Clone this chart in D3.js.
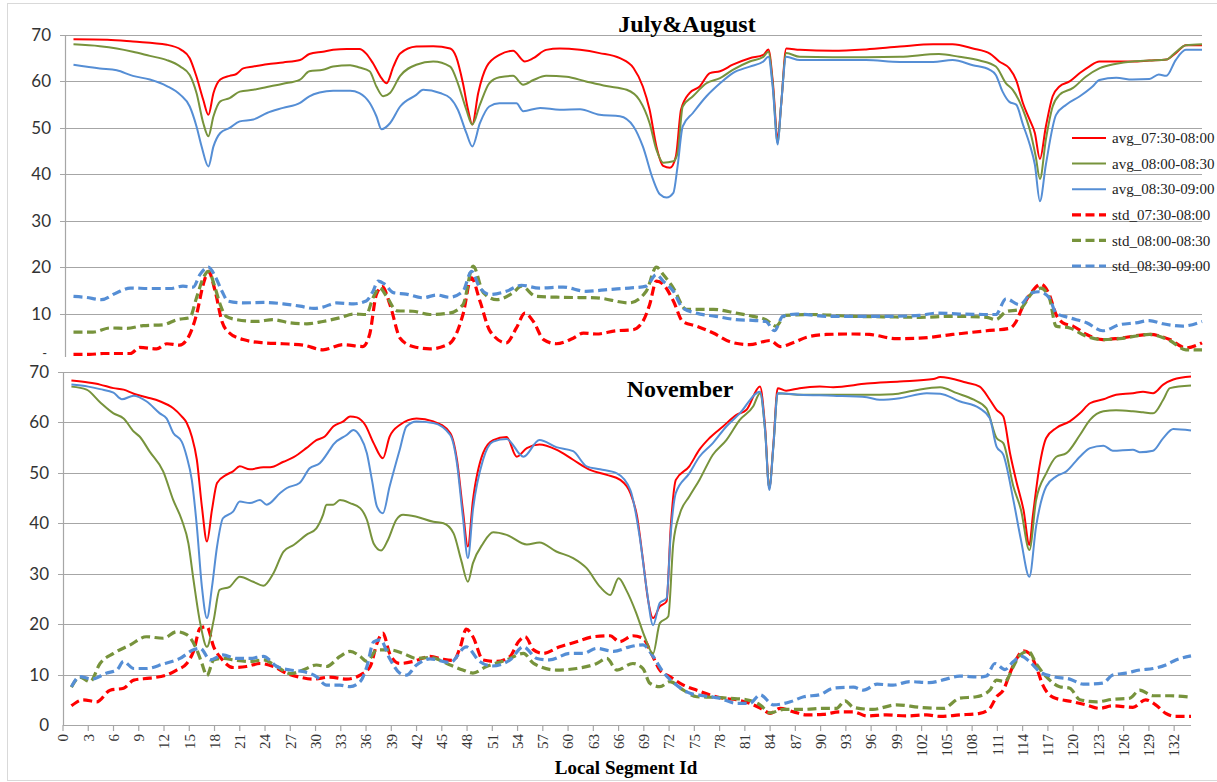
<!DOCTYPE html>
<html>
<head>
<meta charset="utf-8">
<script src="https://cdn.jsdelivr.net/npm/d3@7"></script>
<style>
  body { margin: 0; background: #fff; }
  .grid line { stroke: #a6a6a6; stroke-width: 1.2; }
  .ylab { font-family: Lato, "Open Sans", sans-serif; font-size: 17px; fill: #333; }
  .xlab { font-family: "Liberation Serif", "Times New Roman", serif; font-size: 15px; fill: #333; }
  .title { font-family: "Liberation Serif", "Times New Roman", serif; font-weight: bold; font-size: 24px; fill: #000; }
  .legend text { font-family: "Liberation Serif", "Times New Roman", serif; font-size: 15px; fill: #222; }
</style>
</head>
<body>
<div id="chart"></div>
<script>
// ---- data as [segment id, value] ----
const seriesNames = ["avg_07:30-08:00", "avg_08:00-08:30", "avg_08:30-09:00",
                     "std_07:30-08:00", "std_08:00-08:30", "std_08:30-09:00"];
const yTicks = [0, 10, 20, 30, 40, 50, 60, 70];
const xTicks = d3.range(0, 133, 3);

// July & August
const jaAvg0730 = [[1,69.1],[5,69],[8,68.6],[12,67.9],[13.7,66.8],[14.7,65],[15.5,61],[16.3,56],[16.9,52.8],[17.5,57.5],[18.3,60.4],[19.4,61.2],[20.2,61.6],[21,62.8],[22.2,63.2],[23.8,63.7],[25.7,64.1],[27.7,64.6],[28.8,65.9],[30.4,66.4],[31.6,66.8],[33.2,67],[34.7,67],[35.5,66],[36.3,63.9],[37.3,60.7],[37.9,59.6],[38.7,63.2],[39.5,66],[41.4,67.5],[43.4,67.6],[45.4,67.1],[46.1,65.3],[46.9,59.6],[47.5,53.9],[48,50.7],[48.7,57.5],[49.7,63.2],[51.2,65.7],[52.8,66.6],[54.2,64.3],[55.2,65],[56.7,66.8],[58.3,67.1],[60.7,66.8],[63,66.1],[65.4,65],[67,62.9],[68.1,58.9],[68.9,53.9],[69.7,46],[70.5,41.8],[71.3,41.4],[72,43.9],[72.6,53.9],[73.6,57.5],[74.8,58.9],[76,61.8],[77.2,62.2],[78.7,63.6],[80.7,65],[82.3,65.7],[82.9,66.9],[83.4,60.3],[84,47.8],[84.4,55],[85,67.1],[86.6,66.8],[90.5,66.6],[94.4,66.9],[98.4,67.5],[102.3,68],[104.6,68],[107,67.1],[109,66],[110.1,64.3],[111.3,62.8],[112.1,60.3],[112.9,55.3],[113.7,51.7],[114.3,48.9],[114.9,43.3],[115.6,50.3],[116.4,56.8],[117.2,58.9],[118.4,60],[119.6,61.8],[120.7,63.2],[121.9,64.3],[123.9,64.3],[125.8,64.3],[127.8,64.5],[129.8,64.7],[130.9,66.1],[132.1,67.8],[134,67.8]];
const jaAvg0800 = [[1,68],[4.1,67.6],[6.1,67.1],[8,66.4],[10,65.5],[12,64.6],[13.6,63.2],[14.7,61.4],[15.5,57.5],[16.3,51],[16.9,48.2],[17.5,52.5],[18.3,55.7],[19.4,56.4],[20.6,57.8],[22.2,58.2],[23.8,58.8],[25.7,59.5],[27.7,60.4],[28.8,62.2],[30.4,62.5],[31.6,63.2],[33.6,63.5],[34.7,63],[35.9,62.2],[36.7,58.9],[37.5,56.8],[38.3,57.5],[39.5,61.2],[41.4,63.6],[43.4,64.3],[45.4,63.2],[46.3,59.6],[47.3,53.9],[48,50.7],[48.9,55],[50,59.6],[51.2,60.9],[52.8,61.2],[54,59.3],[55.2,60.3],[56.7,61.2],[59.1,61],[61.4,60],[63.8,59],[66.2,58.2],[67.7,56],[68.9,51],[69.7,45.3],[70.5,42.5],[71.7,42.8],[72.2,44.6],[72.8,54.6],[74,56.8],[75.6,59.6],[77.2,60.7],[78.7,62.5],[80.7,64.3],[82.3,65.3],[82.9,66.4],[83.4,59.6],[84,46.7],[84.4,55],[85,66.1],[86.6,65.3],[90.5,65.2],[94.4,65.2],[98.4,65.3],[103,65.9],[105.4,65.3],[107.8,64.5],[109.7,63.2],[110.9,59.6],[111.7,58.2],[112.9,53.9],[113.7,49.6],[114.4,43.9],[114.9,39],[115.6,47.5],[116.4,54.6],[117.2,57.1],[118.8,58.6],[120.3,61],[121.9,62.8],[123.9,63.8],[125.8,64.3],[127.8,64.5],[129.8,64.7],[130.9,66.3],[132.1,67.8],[134,68]];
const jaAvg0830 = [[1,63.6],[4.1,62.8],[6.1,62.4],[8,61.2],[10,60.4],[12,59],[13.6,57.1],[14.7,54.6],[15.5,50.3],[16.1,46],[16.9,41.7],[17.5,46],[18.3,48.9],[19.4,50],[20.6,51.4],[22.2,51.8],[23.8,53.2],[25.7,54.3],[27.7,55.4],[28.8,56.8],[30,57.6],[31.6,58],[33.6,58],[34.7,57.5],[35.9,55.4],[36.7,52.5],[37.3,49.7],[38.3,51],[39.5,54.6],[41.4,57.1],[42.2,58.2],[44.2,57.5],[45.4,56.4],[46.3,53.9],[47.3,48.9],[48,46],[48.9,51],[50,54.6],[51.2,55.3],[53.2,55.3],[54,53.6],[56,54.3],[58.3,53.9],[60.7,54],[63,52.8],[65.4,52.5],[67,50.3],[68.1,46],[69.3,38.9],[70.1,35.7],[70.9,35],[71.7,36],[72.2,41.8],[72.8,50.3],[74,53.2],[75.6,56.8],[77.2,59.6],[78.7,61.8],[80.7,63.2],[82.3,64.3],[82.9,65.3],[83.4,58.9],[84,46.4],[84.4,55],[85,65.3],[86.6,64.6],[90.5,64.6],[94.4,64.6],[98.4,64.2],[102.3,64.2],[104.6,64.6],[107,63.5],[109,62.5],[109.7,61.4],[110.5,57.8],[111.3,55.6],[112.1,55],[112.9,50.7],[113.7,46.4],[114.3,42.1],[114.9,34.2],[115.6,42.1],[116.8,52.8],[118,55],[119.6,56.8],[121.1,58.9],[121.9,60.3],[123.9,60.8],[125.8,60.4],[127.8,60.5],[128.9,61.5],[129.8,61.2],[130.9,64.6],[132.1,66.8],[134,66.8]];
const jaStd0730 = [[1,1.2],[2.9,1.2],[4.5,1.4],[7.7,1.4],[8.8,2.7],[10.8,2.4],[12,3.5],[13.5,3.2],[14.7,5.5],[15.5,9.8],[16.3,16.3],[16.9,19.1],[17.7,14.8],[18.5,8.3],[19.4,5.8],[21,4.4],[23.4,3.7],[25.7,3.5],[28.1,3.2],[30.4,2.2],[32.8,3.3],[35.1,2.9],[35.9,5.5],[36.7,14.1],[37.4,15.8],[38.3,11.9],[39.5,4.7],[41,2.9],[43,2.4],[45.3,3.5],[46.9,9.8],[47.9,17.7],[48.9,12.7],[50.1,6.2],[52,3.7],[53.2,6.9],[54.2,10.1],[55.2,8.3],[56.4,4.4],[57.9,3.5],[59.9,4.7],[61.1,5.8],[62.6,5.6],[65,6.3],[66.9,6.5],[68.1,8.3],[68.9,11.9],[69.7,17],[70.5,16.3],[71.7,12.7],[72.8,8.3],[74.4,7.3],[76.4,5.8],[78.4,3.9],[80.7,3.3],[83.1,4.2],[84.3,2.9],[85.8,3.7],[87.4,4.9],[89.7,5.5],[92.9,5.6],[94.8,5.5],[98,4.6],[100.7,4.7],[104.6,5.5],[108.6,6.3],[111.3,6.8],[112.1,8.3],[112.8,11.2],[114,14.8],[115,16.3],[116,14.1],[116.8,9.8],[117.6,8],[118.8,7.3],[120.4,5.5],[122.3,4.4],[124.3,4.7],[127.8,5.5],[130.2,4.4],[132.1,2.6],[134,3.7]];
const jaStd0800 = [[1,6],[3.3,6],[5.3,6.9],[7.3,6.8],[9.2,7.4],[11.6,7.6],[13.2,8.7],[14.7,9.1],[15.5,13.4],[16.3,17.7],[16.9,19.1],[17.7,15.5],[18.3,11.9],[19,9.4],[20.2,8.7],[22.6,8.3],[24.5,8.7],[26.5,8],[28.5,7.8],[30.4,8.3],[32.4,9.1],[34,9.9],[35.5,9.8],[36.3,13.4],[37.1,15.5],[37.9,13.7],[39.1,10.6],[41,10.5],[43,9.8],[45.3,10.1],[46.9,11.9],[48.1,20.2],[49.3,14.5],[50.9,13],[52.8,14.5],[53.8,15.9],[55.5,13.7],[58.7,13.5],[62.6,13.4],[66.5,12.3],[68.5,14.8],[69.7,20],[70.5,18.4],[71.7,15.5],[73.2,10.9],[76.4,10.9],[79.1,10.1],[81.1,9.4],[82.6,8.7],[83.8,7.3],[84.9,9.6],[88,9.8],[92.9,9.4],[96.8,9.3],[100.7,9.2],[104.6,9.4],[108.6,9.2],[109.7,8.7],[110.9,10.4],[112.5,10.9],[114,14.5],[115,15.5],[116,13.4],[116.8,7.3],[118.4,6.9],[120.4,5.1],[122.3,4.4],[124.3,4.6],[127.8,5.5],[130.2,4.2],[132.1,2.2],[134,2.2]];
const jaStd0830 = [[1,13.7],[2.4,13.5],[4.3,13],[6.1,14.5],[7.7,15.5],[10,15.4],[12.4,15.4],[13.9,15.9],[15.1,15.7],[15.9,18.4],[16.9,20],[17.7,18],[18.5,14.8],[19.2,12.7],[21,12.3],[23.4,12.4],[25.7,12.1],[27.7,11.6],[29.3,11.1],[30.4,11.4],[32,12.3],[34,12.1],[35.5,12.7],[36.3,14.8],[36.9,17],[37.7,16.3],[38.7,14.5],[40.2,14.2],[42.2,13.4],[43.8,14],[45.3,13.5],[46.9,14.8],[47.9,19.1],[48.9,15.5],[50.1,14.1],[52,14.8],[53.8,16.1],[55.9,15.5],[58.7,15.7],[61.4,14.8],[64.2,15.2],[66.5,15.5],[68.5,15.9],[69.7,18.4],[70.5,17],[71.7,14.8],[72.8,11.2],[74.4,10.1],[76.7,9.4],[79.1,8.7],[81.4,8.5],[82.6,8.3],[83.6,6.3],[84.6,9.4],[86.2,9.9],[90.1,9.4],[92.9,9.4],[96.8,9.4],[100.7,9.6],[102.7,10.1],[105.4,9.9],[108.6,9.8],[109.7,9.8],[110.9,13.2],[112.5,11.9],[114,14.5],[114.8,14.7],[116,13.4],[116.8,10.1],[118.4,9.1],[120.4,8],[122.3,6.3],[124.3,7.6],[126.2,8],[127.8,8.5],[129.4,7.8],[131.7,7.3],[134,8.3]];

// November
const novAvg0730 = [[1,68.3],[3,67.9],[4.4,67.5],[6,66.8],[7.2,66.5],[8.4,65.7],[9.9,65],[11.5,64.2],[13.1,62.8],[14.1,61.2],[14.7,59.9],[15.3,57.2],[15.9,52.6],[16.5,43.3],[17.1,36.4],[17.7,42.7],[18.3,48],[19.4,49.6],[20.2,50.3],[21,51.3],[22.2,50.7],[23.8,51.1],[24.6,51.1],[26.2,52.2],[27.4,53.1],[28.9,54.9],[30.1,56.5],[31.1,57.2],[32.1,59.2],[33.3,60.2],[34.1,61.2],[34.9,61],[35.9,59.5],[36.9,55.9],[38,52.9],[38.8,57.2],[40,59.5],[42,60.8],[44,60.2],[46,57.9],[46.8,52.6],[47.5,42.7],[48.1,35.4],[48.7,44.6],[49.9,53.9],[51.1,56.5],[52.7,57.1],[53.9,53.2],[55.1,54.9],[56.6,55.6],[58.6,54.6],[60.6,52.6],[62.6,50.6],[64.6,49.6],[66.2,48.6],[67.4,46],[68.2,41.3],[68.9,32.7],[69.5,24.8],[70.1,21.2],[70.9,23.5],[71.7,24.5],[72.2,39.4],[72.8,48.6],[74.4,51.3],[75.6,54.6],[76.8,56.9],[78.4,59.2],[80,61.5],[81.2,62.5],[82.8,67.1],[83.4,59.2],[83.9,47],[84.4,55.9],[84.9,66.8],[85.9,66.3],[87.5,66.8],[89.9,67.1],[91.5,67],[95.5,67.7],[99.4,68.1],[103.4,68.6],[104.2,69],[107.3,67.9],[108.9,67.1],[110.1,64.5],[110.9,62.5],[111.7,61.2],[112.5,53.9],[113.3,48],[114.1,42.7],[114.8,35.7],[115.2,41.3],[116,51.3],[116.8,56.9],[118,58.9],[119.6,60.2],[120.8,61.8],[122,63.8],[123.6,64.6],[125.1,65.5],[127.1,65.8],[128.3,66.1],[129.5,65.8],[130.7,67.5],[131.9,68.5],[134,69.1]];
const novAvg0800 = [[1,67.1],[2.8,66.5],[4.4,64],[6,61.8],[7.2,60.8],[8.4,58.2],[9.1,57.2],[10.3,54.2],[11.9,50.3],[13.1,44.6],[14.1,40.7],[14.9,36],[15.5,28.8],[16.3,20.2],[17.1,15.5],[17.9,20.8],[18.6,26.8],[19.8,27.4],[21,29.4],[22.6,28.4],[23.8,27.6],[25,30.1],[26.2,34.4],[27.4,35.7],[28.9,37.7],[30.1,39],[30.9,41.7],[31.3,43.7],[32.1,43.7],[32.9,44.6],[34.1,44],[35.3,43],[36.1,40.7],[36.9,36],[37.8,34.6],[38.6,36.7],[39.6,40.7],[40.4,41.7],[42,41.3],[44,40.3],[45.2,40],[46.4,38],[47.3,32.7],[48.1,28.4],[48.7,32.1],[49.9,36],[51.1,38.2],[52.7,37.7],[55.1,35.8],[56.6,36.2],[58.6,34.4],[60.6,33.1],[62.2,31.1],[63.8,27.4],[65,25.8],[66,29.1],[66.9,26.8],[68.1,22.2],[69.1,17.5],[70.1,14.2],[70.9,20.2],[71.9,21.5],[72.5,36],[73.3,42],[74.4,45.3],[75.6,48.6],[77.2,53.6],[78.8,56.5],[80.4,60.5],[82,63.2],[82.8,65.8],[83.4,58.5],[83.9,47],[84.4,55.5],[84.9,65.8],[87.5,65.5],[91.5,65.5],[95.5,65.5],[98.6,65.6],[101,66.3],[104.2,67],[106.2,65.8],[108.2,64.5],[109.7,62.8],[110.9,56.9],[111.7,55.9],[112.9,47.3],[113.8,42.7],[114.8,34.7],[115.6,44.6],[116.8,49.9],[118,53.2],[119.2,53.9],[120.8,57.5],[122,60.5],[123.6,62.2],[125.1,62.4],[127.1,62.2],[128.3,62],[129.5,61.8],[130.7,64.5],[131.5,66.8],[134,67.3]];
const novAvg0830 = [[1,67.5],[3,67.1],[4.4,66.6],[6,65.9],[7,64.6],[8.4,65.3],[9.9,64.2],[11.5,61.8],[12.3,60.8],[13.1,57.9],[14.1,56.2],[14.7,53.2],[15.3,48.6],[15.9,39.4],[16.5,27.4],[17.1,21.2],[17.7,27.4],[18.3,35.4],[19,41],[20.2,42.3],[21,44.3],[22.2,44],[23.4,44.6],[24.2,43.7],[25.8,46],[26.6,47],[28.1,48],[29.3,50.9],[30.5,51.9],[31.7,54.6],[32.1,55.6],[33.7,57.5],[34.5,58.5],[35.3,57.2],[36.1,53.9],[36.7,48.6],[37.3,43.3],[38,42],[38.8,47.3],[40,54.6],[40.8,59.2],[42,60.2],[44,59.9],[46,57.5],[46.8,51.9],[47.5,41.3],[48.1,33.1],[48.7,42.7],[49.9,52.6],[51.1,56.2],[52.7,56.7],[54.7,53.2],[56.6,56.5],[58.6,55.1],[60.6,54.3],[62.2,51.3],[63.8,50.7],[65.8,49.9],[67.4,46.6],[68.5,37.4],[69.3,27.4],[70.1,19.8],[70.9,24.2],[71.7,25.1],[72.2,38],[72.8,46],[74.4,49.9],[75.6,53.2],[77.2,55.9],[78.8,59.2],[80.4,61.8],[82.8,66.1],[83.4,58.5],[83.9,46.6],[84.4,55.5],[84.9,65.8],[87.5,65.5],[91.5,65.3],[95.5,65],[97,64.5],[99.4,64.8],[102.6,65.8],[104.2,65.7],[106.5,64.2],[108.9,62.8],[110.1,60.8],[110.9,55.2],[111.7,53.6],[112.9,44.6],[113.8,36.7],[114.8,29.4],[115.6,39.4],[116.8,47.3],[118,49.3],[119.2,50.3],[120.8,53.2],[122,54.9],[123.6,55.4],[124.7,54.4],[127.1,54.6],[127.9,54.1],[129.5,54.4],[130.7,56.9],[131.9,58.7],[134,58.4]];
const novStd0730 = [[1,3.8],[2.4,5],[4,4.6],[5.6,6.9],[7.2,7.3],[8.4,8.9],[10.3,9.3],[12.3,9.9],[13.5,10.9],[14.7,12.2],[15.5,14.6],[16.3,19.2],[17.1,19.5],[17.9,15.5],[18.8,13.2],[20.2,11.4],[21.8,11.6],[23.4,12.2],[25,11.6],[26.6,10.2],[28.1,9.5],[29.7,9.1],[31.7,9.5],[33.7,9.1],[35.3,9.9],[36.5,11.6],[37.3,16.2],[38,18.2],[38.8,14.2],[40,12.2],[41.6,12.6],[43.6,13.6],[45.2,13],[46.4,12.8],[47.2,15.5],[47.9,19],[48.7,17.5],[49.9,12.9],[51.5,12.6],[53.1,13.6],[54.1,16.5],[54.9,17.5],[55.9,14.9],[57,14.2],[59,15.5],[61,16.5],[63,17.5],[65,17.7],[66.1,16.5],[67.7,17.7],[68.9,17.2],[69.9,14.2],[70.9,10.9],[72.1,9.6],[73.7,7.9],[75.3,6.9],[76.8,6],[78.4,5.3],[80,5],[81.6,4.3],[83.2,3],[84,2.3],[85.2,3.3],[86.8,2.6],[88.3,2],[90.3,2.1],[92.3,2.6],[93.9,2.6],[95.5,1.8],[97.8,2],[100.2,1.8],[102.6,2],[104.2,1.7],[106.5,2],[108.9,2.3],[110.1,3.3],[110.9,5.6],[111.7,6.9],[112.5,10.3],[113.3,13.2],[114.1,14.7],[114.8,14.2],[115.6,11.6],[116.4,7.9],[117.6,5.5],[120,4.6],[121.5,4],[123.1,3.3],[124.7,3.8],[127.1,3.5],[128.6,5],[129.8,4],[131,2.3],[132.2,1.7],[134,1.7]];
const novStd0800 = [[1,7.5],[2,9.5],[3.2,8.6],[4.4,12.2],[6,14.2],[8,15.9],[9.9,17.5],[11.9,17.2],[13.5,18.5],[14.7,17.9],[15.9,14.9],[16.5,12.2],[17.1,9.8],[17.9,12.9],[19,13.2],[20.6,12.8],[22.2,12.6],[23.8,12.9],[25.4,11.6],[27,10.2],[28.5,10.9],[30.1,11.9],[31.3,11.6],[32.9,13.6],[34.1,14.6],[35.3,13.6],[36.1,12.6],[37.3,14.9],[38.8,14.9],[40.4,14.2],[42,13.2],[43.6,13.4],[46,11.9],[47.5,10.9],[48.7,10.3],[50.3,11.6],[52.7,12.9],[54.7,14.2],[55.9,12.2],[58.6,10.9],[61,11.2],[63.4,12.2],[64.6,13.2],[65.8,10.9],[67.7,12.2],[68.9,11.2],[69.7,8.3],[70.9,7.6],[72.1,8.6],[73.7,6.9],[75.3,5.6],[77.3,5.5],[79.2,5.3],[81.2,5],[82.8,4],[84,2.4],[85.6,3.1],[88,3.1],[90.3,3.3],[91.9,3.3],[92.9,4.8],[93.9,3.5],[96.2,3.1],[99,4],[101.8,3.5],[104.6,3.3],[106.5,5.3],[108.5,5.6],[110.1,6.9],[110.9,8.9],[111.9,8.6],[112.9,11.6],[113.7,13.9],[114.7,14.6],[115.6,12.2],[116.8,9.6],[118.4,7.6],[119.6,7.3],[120.8,5],[122.8,4.6],[124.7,5.1],[126.7,5.3],[127.9,6.9],[129.5,5.8],[131.5,5.8],[134,5.5]];
const novStd0830 = [[1,7.6],[2,9.6],[3.4,9.1],[5.2,10.3],[6.4,10.9],[7.2,12.6],[8.4,11.2],[9.9,11.2],[11.9,12.1],[13.9,13.2],[15.5,14.9],[16.3,15.2],[17.5,12.9],[19,13.9],[20.6,13.2],[22.2,13.2],[23.8,13.6],[25.4,11.6],[27,10.9],[28.5,10.6],[30.1,9.6],[31.3,7.9],[32.9,7.9],[34.1,7.6],[35.3,8.6],[36.1,11.6],[36.9,16.5],[37.7,16.9],[38.8,13.2],[40,10.3],[40.8,9.9],[42,11.9],[43.6,13.1],[46,12.4],[47.9,15.5],[49.5,12.6],[51,11.7],[53.1,12.9],[54.7,15.5],[56.3,13.2],[57.8,12.9],[60.2,14.2],[61.8,14.2],[63.4,15.2],[65.4,14.6],[67.3,15.5],[68.9,15.9],[70.1,13.6],[71.3,10.5],[72.9,7.9],[74.5,6.3],[76,5.8],[78,5.3],[80,4.3],[81.6,4.3],[82.8,6],[84.4,4],[86.4,4.6],[88,5.6],[89.9,6],[91.5,7.3],[93.9,7.5],[95.1,6.9],[96.7,8.1],[98.6,7.9],[100.6,8.6],[102.9,8.4],[104.9,9.1],[106.5,9.7],[108.9,9.5],[109.7,9.7],[110.7,12.2],[111.9,11],[112.9,12.6],[113.9,13.6],[114.8,12.6],[116,10.6],[117.6,9.6],[119.6,9.1],[121.2,8.1],[123.5,8.3],[124.7,9.9],[126.3,10.3],[127.9,10.9],[129.5,11.2],[131,11.9],[132.2,12.9],[134,13.7]];

// ---- styles for the six series ----
const colors = ["#ff0000", "#77933c", "#558ed5", "#ff0000", "#77933c", "#558ed5"];
const dashed = [false, false, false, true, true, true];

const width = 1217, height = 782;
const svg = d3.select("#chart").append("svg")
    .attr("width", width)
    .attr("height", height);

// outer frame like the pasted picture
svg.append("rect")
    .attr("x", 7.5).attr("y", 3.5)
    .attr("width", 1215).attr("height", 777)
    .attr("fill", "none")
    .attr("stroke", "#d9d9d9");

function drawPanel(opts) {
    const x = d3.scaleLinear().domain([0, 134]).range([opts.left, opts.right]);
    const y = d3.scaleLinear().domain([0, 70]).range([opts.bottom, opts.top]);

    const g = svg.append("g");

    // clip so the top panel gets cut where the second picture starts
    const clipId = "clip-" + opts.name;
    svg.append("defs").append("clipPath").attr("id", clipId)
        .append("rect")
        .attr("x", opts.left - 10).attr("y", opts.top - 10)
        .attr("width", opts.right - opts.left + 20)
        .attr("height", opts.clipBottom - opts.top + 10);

    // horizontal gridlines
    g.append("g").attr("class", "grid")
        .attr("clip-path", `url(#${clipId})`)
        .selectAll("line")
        .data(yTicks.filter(t => t > 0 || !opts.showXAxis))
        .enter().append("line")
        .attr("x1", opts.left - 5)
        .attr("x2", opts.right)
        .attr("y1", d => Math.round(y(d)) + 0.5)
        .attr("y2", d => Math.round(y(d)) + 0.5);

    // y axis line
    g.append("line")
        .attr("x1", opts.left + 0.5).attr("x2", opts.left + 0.5)
        .attr("y1", opts.top).attr("y2", opts.clipBottom)
        .attr("stroke", "#a6a6a6").attr("stroke-width", 1.2);

    // y tick labels (Excel shows 0 as "-" in the top one)
    g.append("g").selectAll("text")
        .data(yTicks)
        .enter().append("text")
        .attr("class", "ylab")
        .attr("text-anchor", "end")
        .attr("x", d => (d === 0 && opts.zeroDash) ? opts.left - 18 : opts.left - 14)
        .attr("y", d => (d === 0 && opts.zeroDash) ? y(d) - 7 : y(d))
        .attr("dy", "0.35em")
        .style("font-size", d => (d === 0 && opts.zeroDash) ? "13px" : null)
        .text(d => (d === 0 && opts.zeroDash) ? "-" : d);

    if (opts.showXAxis) {
        g.append("line")
            .attr("x1", opts.left).attr("x2", opts.right)
            .attr("y1", opts.bottom + 0.5).attr("y2", opts.bottom + 0.5)
            .attr("stroke", "#a6a6a6").attr("stroke-width", 1.2);
        const xt = g.append("g").selectAll("g")
            .data(xTicks)
            .enter().append("g")
            .attr("transform", d => `translate(${x(d)},${opts.bottom})`);
        xt.append("line")
            .attr("y1", 0).attr("y2", 6)
            .attr("stroke", "#a6a6a6").attr("stroke-width", 1.2);
        xt.append("text")
            .attr("class", "xlab")
            .attr("text-anchor", "end")
            .attr("transform", "translate(0,9) rotate(-90)")
            .attr("dy", "0.35em")
            .text(d => d);
    }

    const line = d3.line()
        .x(d => x(d[0]))
        .y(d => y(d[1]))
        .curve(d3.curveMonotoneX);

    // draw dashed std lines first, avg lines on top of them
    const order = [3, 4, 5, 0, 1, 2];
    g.append("g").attr("clip-path", `url(#${clipId})`)
        .selectAll("path")
        .data(order)
        .enter().append("path")
        .attr("d", i => line(opts.series[i]))
        .attr("fill", "none")
        .attr("stroke", i => colors[i])
        .attr("stroke-width", i => dashed[i] ? 3.2 : 2)
        .attr("stroke-dasharray", i => dashed[i] ? "9,4.5" : null)
        .attr("stroke-linejoin", "round");

    // panel title
    svg.append("text")
        .attr("class", "title")
        .attr("text-anchor", "middle")
        .attr("x", opts.titleX)
        .attr("y", opts.titleY)
        .text(opts.title);
}

drawPanel({
    name: "ja", title: "July&August", titleX: 687, titleY: 32,
    left: 65, right: 1202, top: 35, bottom: 360, clipBottom: 357,
    zeroDash: true, showXAxis: false,
    series: [jaAvg0730, jaAvg0800, jaAvg0830, jaStd0730, jaStd0800, jaStd0830]
});

drawPanel({
    name: "nov", title: "November", titleX: 680, titleY: 397,
    left: 63, right: 1191, top: 372, bottom: 725, clipBottom: 725,
    zeroDash: false, showXAxis: true,
    series: [novAvg0730, novAvg0800, novAvg0830, novStd0730, novStd0800, novStd0830]
});

// x axis title
svg.append("text")
    .attr("class", "title")
    .style("font-size", "19px")
    .attr("text-anchor", "middle")
    .attr("x", 626)
    .attr("y", 774)
    .text("Local Segment Id");

// legend inside the top panel
const legend = svg.append("g").attr("class", "legend")
    .selectAll("g")
    .data(seriesNames)
    .enter().append("g")
    .attr("transform", (d, i) => `translate(1072,${138 + i * 25.6})`);

legend.append("line")
    .attr("x1", 0).attr("x2", 34)
    .attr("stroke", (d, i) => colors[i])
    .attr("stroke-width", (d, i) => dashed[i] ? 3.2 : 2)
    .attr("stroke-dasharray", (d, i) => dashed[i] ? "9,4.5" : null);

legend.append("text")
    .attr("x", 40)
    .attr("dy", "0.35em")
    .text(d => d);
</script>
</body>
</html>
